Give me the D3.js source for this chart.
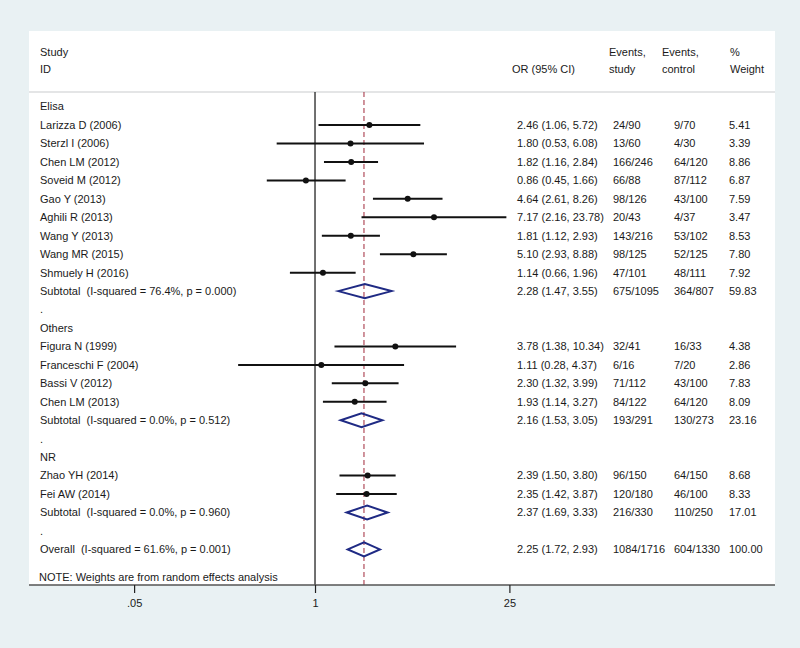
<!DOCTYPE html>
<html>
<head>
<meta charset="utf-8">
<script src="https://cdn.jsdelivr.net/npm/d3@7"></script>
<style>
  html, body { margin: 0; padding: 0; background: #e9f1f3; }
  svg { display: block; }
  text { font-family: "Liberation Sans", Arial, sans-serif; font-size: 11px; fill: #1a1a1a; white-space: pre; }
</style>
</head>
<body>
<svg id="chart" width="800" height="648"></svg>
<script>
// ---- Data ----
const rowLabels = [
  "Elisa",
  "Larizza D (2006)", "Sterzl I (2006)", "Chen LM (2012)", "Soveid M (2012)", "Gao Y (2013)",
  "Aghili R (2013)", "Wang Y (2013)", "Wang MR (2015)", "Shmuely H (2016)",
  "Subtotal  (I-squared = 76.4%, p = 0.000)",
  ".",
  "Others",
  "Figura N (1999)", "Franceschi F (2004)", "Bassi V (2012)", "Chen LM (2013)",
  "Subtotal  (I-squared = 0.0%, p = 0.512)",
  ".",
  "NR",
  "Zhao YH (2014)", "Fei AW (2014)",
  "Subtotal  (I-squared = 0.0%, p = 0.960)",
  ".",
  "Overall  (I-squared = 61.6%, p = 0.001)"
];
const rowKinds = [
  "group",
  "study","study","study","study","study","study","study","study","study",
  "pooled",
  "blank",
  "group",
  "study","study","study","study",
  "pooled",
  "blank",
  "group",
  "study","study",
  "pooled",
  "blank",
  "pooled"
];
const orValues = [null, 2.46,1.80,1.82,0.86,4.64,7.17,1.81,5.10,1.14, 2.28, null, null, 3.78,1.11,2.30,1.93, 2.16, null, null, 2.39,2.35, 2.37, null, 2.25];
const ciLower  = [null, 1.06,0.53,1.16,0.45,2.61,2.16,1.12,2.93,0.66, 1.47, null, null, 1.38,0.28,1.32,1.14, 1.53, null, null, 1.50,1.42, 1.69, null, 1.72];
const ciUpper  = [null, 5.72,6.08,2.84,1.66,8.26,23.78,2.93,8.88,1.96, 3.55, null, null, 10.34,4.37,3.99,3.27, 3.05, null, null, 3.80,3.87, 3.33, null, 2.93];
const eventsStudy   = [null, "24/90","13/60","166/246","66/88","98/126","20/43","143/216","98/125","47/101", "675/1095", null, null, "32/41","6/16","71/112","84/122", "193/291", null, null, "96/150","120/180", "216/330", null, "1084/1716"];
const eventsControl = [null, "9/70","4/30","64/120","87/112","43/100","4/37","53/102","52/125","48/111", "364/807", null, null, "16/33","7/20","43/100","64/120", "130/273", null, null, "64/150","46/100", "110/250", null, "604/1330"];
const weights = [null, "5.41","3.39","8.86","6.87","7.59","3.47","8.53","7.80","7.92", "59.83", null, null, "4.38","2.86","7.83","8.09", "23.16", null, null, "8.68","8.33", "17.01", null, "100.00"];
const overallOR = 2.25;
const axisTicks = [0.05, 1, 25];
const axisTickLabels = [".05", "1", "25"];
const noteText = "NOTE: Weights are from random effects analysis";

// ---- Layout ----
const svg = d3.select("#chart");
const panel = { left: 29, right: 775, top: 31, bottom: 585 };
const headerLineY = 92;
const firstRowY = 106.6, rowStep = 18.45;
const noteY = 577;
const labelX = 40;
const colOR = 517, colEvS = 613, colEvC = 674, colW = 729;

const x = d3.scaleLog().domain([0.05, 25]).range([134.1, 509.4]);
const y = i => firstRowY + i * rowStep;

// white panel
svg.append("rect")
  .attr("x", panel.left).attr("y", panel.top)
  .attr("width", panel.right - panel.left).attr("height", panel.bottom - panel.top)
  .attr("fill", "#ffffff");

// header
const hdr = svg.append("g");
const h1 = 52, h2 = 69.5;
hdr.append("text").attr("x", labelX).attr("y", h1).attr("dy", "0.35em").text("Study");
hdr.append("text").attr("x", labelX).attr("y", h2).attr("dy", "0.35em").text("ID");
hdr.append("text").attr("x", 512).attr("y", h2).attr("dy", "0.35em").text("OR (95% CI)");
hdr.append("text").attr("x", 609).attr("y", h1).attr("dy", "0.35em").text("Events,");
hdr.append("text").attr("x", 609).attr("y", h2).attr("dy", "0.35em").text("study");
hdr.append("text").attr("x", 662).attr("y", h1).attr("dy", "0.35em").text("Events,");
hdr.append("text").attr("x", 662).attr("y", h2).attr("dy", "0.35em").text("control");
hdr.append("text").attr("x", 730).attr("y", h1).attr("dy", "0.35em").text("%");
hdr.append("text").attr("x", 730).attr("y", h2).attr("dy", "0.35em").text("Weight");

svg.append("line")
  .attr("x1", panel.left).attr("x2", panel.right)
  .attr("y1", headerLineY).attr("y2", headerLineY)
  .attr("stroke", "#c9cccd").attr("stroke-width", 1.2);

// null line
svg.append("line")
  .attr("x1", x(1)).attr("x2", x(1))
  .attr("y1", headerLineY).attr("y2", panel.bottom)
  .attr("stroke", "#111").attr("stroke-width", 1.2);

// overall dashed line
svg.append("line")
  .attr("x1", x(overallOR)).attr("x2", x(overallOR))
  .attr("y1", headerLineY).attr("y2", panel.bottom)
  .attr("stroke", "#a0283a").attr("stroke-width", 1)
  .attr("stroke-dasharray", "5,3");

// rows
const rows = rowLabels.map((lab, i) => ({
  i, lab, kind: rowKinds[i], or: orValues[i], lo: ciLower[i], hi: ciUpper[i],
  es: eventsStudy[i], ec: eventsControl[i], w: weights[i]
}));

const rowG = svg.append("g");
rowG.selectAll("text.lab").data(rows).join("text")
  .attr("class", "lab")
  .attr("x", labelX).attr("y", d => y(d.i)).attr("dy", "0.35em")
  .text(d => d.lab);

const withVals = rows.filter(d => d.or != null);
const fmt = d3.format(".2f");
rowG.selectAll("text.or").data(withVals).join("text")
  .attr("x", colOR).attr("y", d => y(d.i)).attr("dy", "0.35em")
  .text(d => `${fmt(d.or)} (${fmt(d.lo)}, ${fmt(d.hi)})`);
rowG.selectAll("text.es").data(withVals).join("text")
  .attr("x", colEvS).attr("y", d => y(d.i)).attr("dy", "0.35em")
  .text(d => d.es);
rowG.selectAll("text.ec").data(withVals).join("text")
  .attr("x", colEvC).attr("y", d => y(d.i)).attr("dy", "0.35em")
  .text(d => d.ec);
rowG.selectAll("text.w").data(withVals).join("text")
  .attr("x", colW).attr("y", d => y(d.i)).attr("dy", "0.35em")
  .text(d => d.w);

// study CIs and points
const studies = rows.filter(d => d.kind === "study");
rowG.selectAll("line.ci").data(studies).join("line")
  .attr("x1", d => x(d.lo)).attr("x2", d => x(d.hi))
  .attr("y1", d => y(d.i)).attr("y2", d => y(d.i))
  .attr("stroke", "#111").attr("stroke-width", 2);
rowG.selectAll("circle.pt").data(studies).join("circle")
  .attr("cx", d => x(d.or)).attr("cy", d => y(d.i)).attr("r", 3)
  .attr("fill", "#111");

// pooled diamonds
const pooled = rows.filter(d => d.kind === "pooled");
const dh = 7;
rowG.selectAll("path.dia").data(pooled).join("path")
  .attr("d", d => {
    const cy = y(d.i);
    return `M${x(d.lo)},${cy} L${x(d.or)},${cy - dh} L${x(d.hi)},${cy} L${x(d.or)},${cy + dh} Z`;
  })
  .attr("fill", "none").attr("stroke", "#1f2a84").attr("stroke-width", 2);

// note
svg.append("text").attr("x", labelX - 1).attr("y", noteY).attr("dy", "0.35em").text(noteText);

// x axis
const axisG = svg.append("g").attr("transform", `translate(0,${panel.bottom})`);
axisG.append("line")
  .attr("x1", panel.left).attr("x2", panel.right)
  .attr("y1", 0).attr("y2", 0)
  .attr("stroke", "#555").attr("stroke-width", 1.5);
const axis = d3.axisBottom(x).tickValues(axisTicks)
  .tickFormat((d, i) => axisTickLabels[i]).tickSize(8).tickPadding(6);
const ax = axisG.append("g").call(axis);
ax.select(".domain").remove();
ax.selectAll(".tick line").attr("stroke", "#222").attr("stroke-width", 1.2);
ax.selectAll(".tick text")
  .attr("font-family", "Liberation Sans, Arial, sans-serif")
  .attr("font-size", 11).attr("fill", "#1a1a1a");
</script>
</body>
</html>
